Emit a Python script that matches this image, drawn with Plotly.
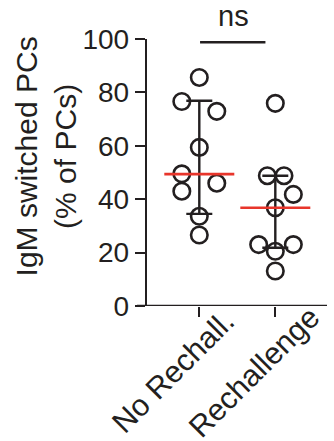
import plotly.graph_objects as go

categories = ["No Rechall.", "Rechallenge"]
g1_values = [85.6, 76.6, 72.9, 59.4, 49.5, 46.0, 43.0, 33.6, 26.6]
g1_offsets = [0, -0.23, 0.23, 0, -0.23, 0.23, -0.23, 0, 0]
g2_values = [75.9, 48.8, 48.8, 41.8, 36.8, 23.0, 23.0, 20.5, 13.1]
g2_offsets = [0, -0.105, 0.114, 0.237, 0, -0.219, 0.237, 0, 0]
medians = [49.4, 36.8]
q1 = [34.5, 21.8]
q3 = [76.9, 48.8]
y_ticks = [0, 20, 40, 60, 80, 100]
sig_label = "ns"

INK = "#231f20"
RED = "#e8352b"
FONT = "Liberation Sans, Arial, sans-serif"

fig = go.Figure()
for i, (vals, offs) in enumerate([(g1_values, g1_offsets), (g2_values, g2_offsets)]):
    fig.add_trace(go.Scatter(
        x=[i + o for o in offs], y=vals, mode="markers",
        marker=dict(symbol="circle-open", size=16.5, color=INK, line=dict(width=2.6, color=INK)),
        showlegend=False, hoverinfo="skip", cliponaxis=False))

fig.add_trace(go.Scatter(
    x=[0, 1], y=medians, mode="markers",
    marker=dict(size=0.1, color="rgba(0,0,0,0)"),
    error_y=dict(type="data", symmetric=False,
                 array=[a - m for a, m in zip(q3, medians)],
                 arrayminus=[m - b for m, b in zip(medians, q1)],
                 color=INK, thickness=2.4, width=13),
    showlegend=False, hoverinfo="skip"))

fig.add_trace(go.Scatter(
    x=[0, 1], y=medians, mode="markers",
    marker=dict(symbol="line-ew", size=50, color=RED, line=dict(width=2.6, color=RED)),
    showlegend=False, hoverinfo="skip"))

# x axis line extending left of y axis (Prism style)
fig.add_shape(type="line", xref="paper", yref="y", x0=-0.056, x1=1, y0=0, y1=0,
              line=dict(color=INK, width=2.4))
# significance bracket
fig.add_shape(type="line", xref="x", yref="y", x0=0.01, x1=0.87, y0=98.8, y1=98.8,
              line=dict(color=INK, width=2.6))
fig.add_annotation(x=0.45, y=1.02, xref="x", yref="paper", text=sig_label, showarrow=False,
                   yanchor="bottom", font=dict(size=29, color=INK, family=FONT))
# y title
fig.add_annotation(x=-0.56, y=0.561, xref="paper", yref="paper",
                   text="IgM switched PCs<br>(% of PCs)", textangle=-90, showarrow=False,
                   xanchor="center", yanchor="middle",
                   font=dict(size=30, color=INK, family=FONT))
# rotated category labels
label_shift = [-0.345, -0.275]
for i, (cat, sh) in enumerate(zip(categories, label_shift)):
    fig.add_annotation(x=i + sh, y=-0.245, xref="x", yref="paper", text=cat,
                       textangle=-45, showarrow=False, xanchor="center", yanchor="middle",
                       font=dict(size=30.5, color=INK, family=FONT))

fig.update_layout(
    width=334, height=441,
    margin=dict(l=147, r=7, t=39, b=135),
    paper_bgcolor="white", plot_bgcolor="white",
    font=dict(family=FONT, color=INK, size=28),
    xaxis=dict(range=[-0.688, 1.68], tickvals=[0, 1], showticklabels=False,
               ticks="outside", ticklen=10, tickwidth=2.4, tickcolor=INK,
               showline=False, showgrid=False, zeroline=False, automargin=False),
    yaxis=dict(range=[0, 100], tickvals=y_ticks, ticks="outside", ticklen=10,
               tickwidth=2.4, tickcolor=INK, showline=True, linecolor=INK, linewidth=2.4,
               showgrid=False, zeroline=False, automargin=False,
               tickfont=dict(size=28, color=INK, family=FONT)),
)
fig.write_html("out.html")
